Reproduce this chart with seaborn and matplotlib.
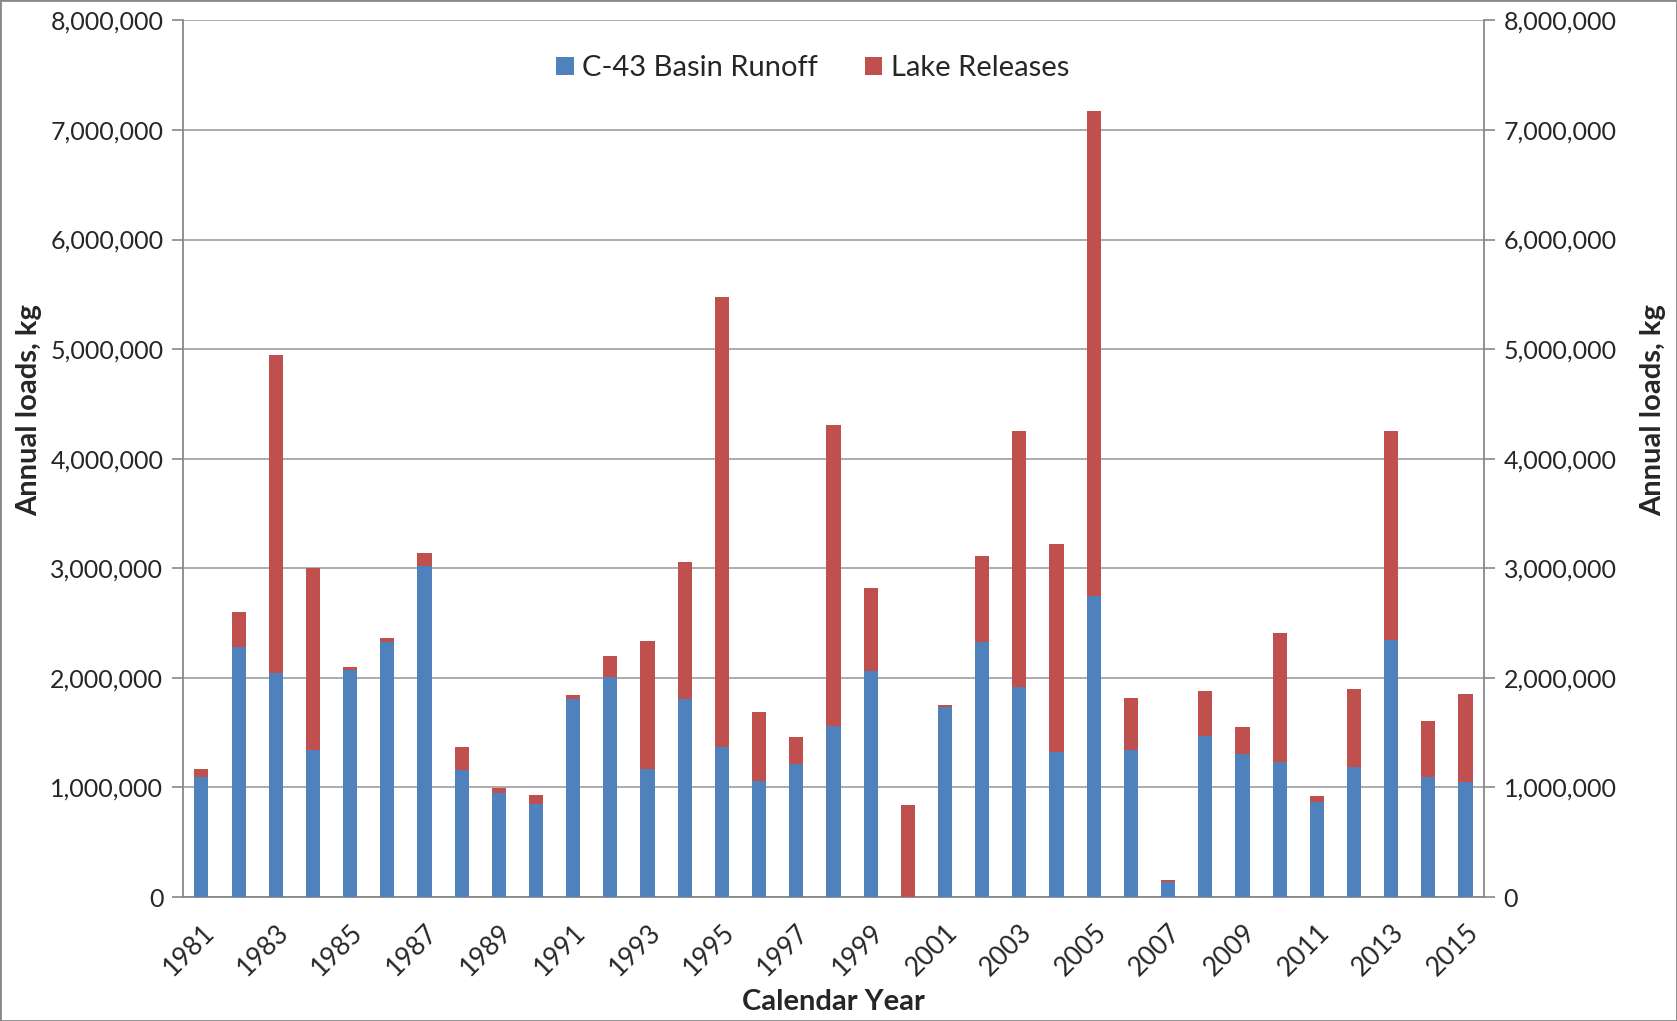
import numpy as np
import pandas as pd
import matplotlib.pyplot as plt
import seaborn as sns
from matplotlib.ticker import FuncFormatter
from matplotlib.patches import Rectangle

# annual loads, thousands of kg
years = list(range(1981, 2016))
basin_runoff = [1098, 2280, 2045, 1340, 2070, 2330, 3020, 1160, 950, 850,
                1810, 2010, 1170, 1810, 1370, 1060, 1210, 1560, 2060, 0,
                1735, 2330, 1920, 1320, 2750, 1340, 136, 1470, 1310, 1230,
                870, 1190, 2350, 1100, 1050]
lake_releases = [70, 320, 2900, 1660, 30, 30, 120, 210, 45, 80,
                 30, 190, 1170, 1250, 4110, 630, 250, 2750, 760, 840,
                 15, 780, 2330, 1900, 4420, 480, 22, 410, 240, 1180,
                 50, 710, 1900, 510, 800]

BLUE = "#4F81BD"
RED = "#C0504D"

df = pd.DataFrame({"year": [str(y) for y in years],
                   "basin": np.array(basin_runoff) * 1000,
                   "lake": np.array(lake_releases) * 1000})
df["total"] = df["basin"] + df["lake"]

sns.set_style("white")
plt.rcParams["font.family"] = ["Lato", "DejaVu Sans"]

fig = plt.figure(figsize=(16.77, 10.21), dpi=100)
ax = fig.add_axes([0.109, 0.1214, 0.776, 0.8586])

# stacked bars: total in red, runoff drawn over it in blue
sns.barplot(data=df, x="year", y="total", color=RED, width=0.38,
            saturation=1, linewidth=0, ax=ax, label="Lake Releases", zorder=3)
sns.barplot(data=df, x="year", y="basin", color=BLUE, width=0.38,
            saturation=1, linewidth=0, ax=ax, label="C-43 Basin Runoff", zorder=4)

ax.set_xlim(-0.5, len(years) - 0.5)
ax.set_ylim(0, 8_000_000)
ax.set_yticks(np.arange(0, 8_000_001, 1_000_000))
fmt = FuncFormatter(lambda v, p: f"{int(v):,}")
ax.yaxis.set_major_formatter(fmt)
ax.grid(axis="y", color="#a6a6a6", lw=1.3, zorder=0)
ax.set_axisbelow(True)

ax.set_xticks(range(len(years)))
ax.set_xticklabels([str(y) if i % 2 == 0 else "" for i, y in enumerate(years)],
                   rotation=45, ha="right", rotation_mode="anchor", fontsize=19)
ax.set_xticks(np.arange(-0.5, len(years), 1), minor=True)
ax.tick_params(axis="x", which="major", length=0, pad=16)
ax.tick_params(axis="x", which="minor", length=8, color="#888888", width=1.2)
ax.tick_params(axis="y", length=8, color="#888888", width=1.2, labelsize=18, pad=6)

for s in ax.spines.values():
    s.set_color("#888888")
    s.set_linewidth(1.3)
ax.spines["top"].set_visible(False)

ax.set_xlabel("Calendar Year", fontsize=21, fontweight="bold", labelpad=6)
ax.set_ylabel("Annual loads, kg", fontsize=21, fontweight="bold")
ax.yaxis.set_label_coords(-0.108, 0.555)

ax2 = ax.twinx()
ax2.set_ylim(ax.get_ylim())
ax2.set_yticks(np.arange(0, 8_000_001, 1_000_000))
ax2.yaxis.set_major_formatter(fmt)
ax2.tick_params(axis="y", length=8, color="#888888", width=1.2, labelsize=18, pad=6)
for s in ax2.spines.values():
    s.set_visible(False)
ax2.set_ylabel("Annual loads, kg", fontsize=21, fontweight="bold")
ax2.yaxis.set_label_coords(1.12, 0.555)

handles, labels = ax.get_legend_handles_labels()
order = [labels.index("C-43 Basin Runoff"), labels.index("Lake Releases")]
ax.legend([handles[i] for i in order], [labels[i] for i in order],
          loc="upper center", bbox_to_anchor=(0.484, 0.99), ncol=2, frameon=False,
          fontsize=21, handlelength=0.6, handleheight=0.6, handletextpad=0.3,
          columnspacing=1.6)

fig.patches.append(Rectangle((0, 0), 1, 1, transform=fig.transFigure,
                             fill=False, edgecolor="#888888", lw=2))

fig.savefig("out.png", dpi=100)
